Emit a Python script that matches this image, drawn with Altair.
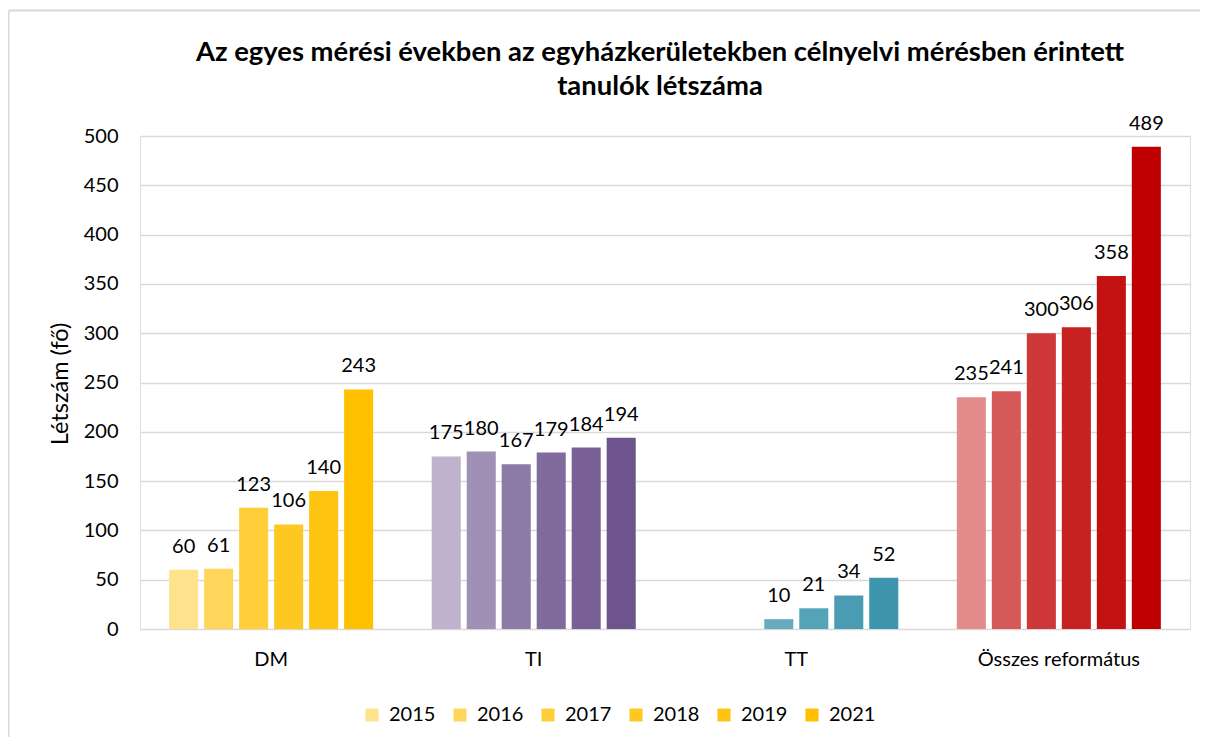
import altair as alt
import pandas as pd

categories = ["DM", "TI", "TT", "Összes református"]
years = ["2015", "2016", "2017", "2018", "2019", "2021"]
dm_values = [60, 61, 123, 106, 140, 243]
ti_values = [175, 180, 167, 179, 184, 194]
tt_values = [None, None, 10, 21, 34, 52]
osszes_values = [235, 241, 300, 306, 358, 489]
y_ticks = list(range(0, 501, 50))

title_line1 = "Az egyes mérési években az egyházkerületekben célnyelvi mérésben érintett"
title_line2 = "tanulók létszáma"
y_title = "Létszám (fő)"

base_colors = ["#FFC000", "#6E548D", "#3C95AC", "#C00000"]
tints = [0.55, 0.35, 0.22, 0.13, 0.07, 0.0]


def mix(hex_color, t):
    r = int(hex_color[1:3], 16)
    g = int(hex_color[3:5], 16)
    b = int(hex_color[5:7], 16)
    r = round(r + (255 - r) * t)
    g = round(g + (255 - g) * t)
    b = round(b + (255 - b) * t)
    return f"#{r:02X}{g:02X}{b:02X}"


series = [dm_values, ti_values, tt_values, osszes_values]
rows = []
keys = []
key_colors = []
for cat, vals, col in zip(categories, series, base_colors):
    for yr, v, t in zip(years, vals, tints):
        key = f"{cat}|{yr}"
        keys.append(key)
        key_colors.append(mix(col, t))
        if v is not None:
            rows.append({"cat": cat, "year": yr, "value": v, "key": key})
df = pd.DataFrame(rows)
legend_keys = [f"DM|{yr}" for yr in years]

FONT = "Lato"

base = alt.Chart(df).encode(
    x=alt.X(
        "cat:N",
        sort=categories,
        scale=alt.Scale(domain=categories, paddingInner=0.223, paddingOuter=0.111),
        axis=alt.Axis(title=None, labelAngle=0, ticks=False, domain=False, grid=False),
    ),
    xOffset=alt.XOffset(
        "year:N", sort=years,
        scale=alt.Scale(domain=years, paddingInner=0.17, paddingOuter=0.0),
    ),
    y=alt.Y(
        "value:Q",
        scale=alt.Scale(domain=[0, 500], nice=False),
        axis=alt.Axis(values=y_ticks, title=None, ticks=False, domain=False),
    ),
)

bars = base.mark_bar().encode(
    color=alt.Color(
        "key:N",
        scale=alt.Scale(domain=keys, range=key_colors),
        legend=alt.Legend(
            title=None, values=legend_keys, labelExpr="slice(datum.label, -4)",
            orient="none", legendX=222, legendY=569, direction="horizontal",
            columns=6, symbolType="square", symbolSize=169, symbolStrokeWidth=0,
            labelOffset=7, columnPadding=14,
        ),
    )
)

labels = base.mark_text(
    baseline="alphabetic", dy=-17, fontSize=20, font=FONT, color="#000000"
).encode(text="value:Q")

one = pd.DataFrame({"a": [0]})
top_line = alt.Chart(one).mark_rule(color="#D9D9D9", strokeWidth=2).encode(
    x=alt.value(-131.5), x2=alt.value(1070), y=alt.value(-125.5)
)
left_line = alt.Chart(one).mark_rule(color="#D9D9D9", strokeWidth=2).encode(
    x=alt.value(-131.5), y=alt.value(-125.5), y2=alt.value(620)
)

title1 = alt.Chart(one).mark_text(
    font=FONT, fontSize=27.4, fontWeight="bold", color="#000000",
    align="center", baseline="alphabetic",
).encode(x=alt.value(520), y=alt.value(-75), text=alt.value(title_line1))
title2 = alt.Chart(one).mark_text(
    font=FONT, fontSize=27.4, fontWeight="bold", color="#000000",
    align="center", baseline="alphabetic",
).encode(x=alt.value(520), y=alt.value(-41), text=alt.value(title_line2))
ytitle = alt.Chart(one).mark_text(
    font=FONT, fontSize=23.5, color="#000000", align="center", baseline="middle",
    angle=270,
).encode(x=alt.value(-79), y=alt.value(248), text=alt.value(y_title))

chart = (
    alt.layer(top_line, left_line, bars, labels, title1, title2, ytitle)
    .properties(
        width=1050,
        height=493,
        autosize=alt.AutoSizeParams(type="none"),
        padding={"left": 132, "top": 128, "right": 10, "bottom": 108},
    )
    .configure_view(stroke=None)
    .configure(background="#FFFFFF")
    .configure_axis(labelFont=FONT, labelFontSize=20, labelColor="#000000")
    .configure_axisX(labelPadding=20)
    .configure_axisY(gridColor="#D9D9D9", gridWidth=1.3, labelPadding=22)
    .configure_legend(labelFont=FONT, labelFontSize=20, labelColor="#000000")
)

chart.save("out.html", embed_options={"renderer": "svg", "actions": False})
